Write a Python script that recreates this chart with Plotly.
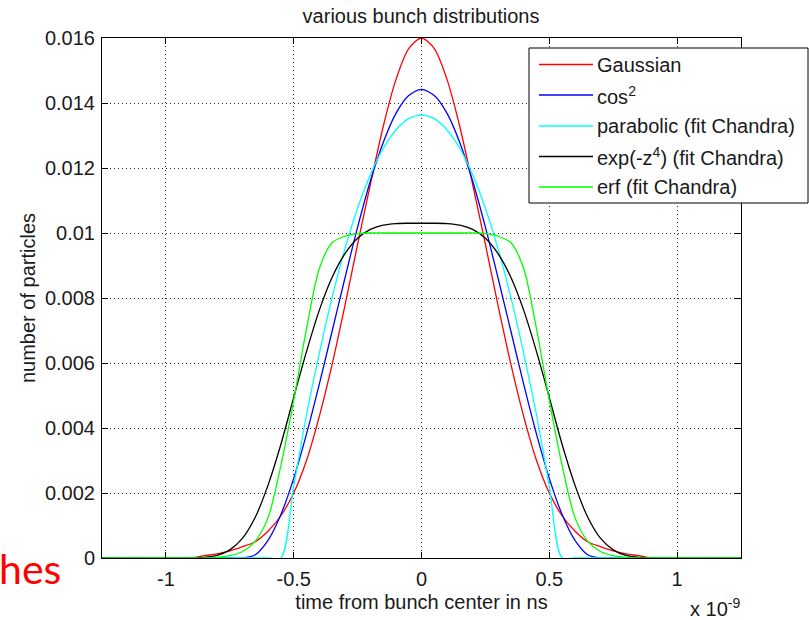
import plotly.graph_objects as go

# ---------------- data ----------------
TIME_NS = [-1.25, -0.90, -0.85, -0.80, -0.75, -0.70, -0.65, -0.60, -0.55, -0.50,
           -0.45, -0.40, -0.35, -0.30, -0.25, -0.20, -0.15, -0.10, -0.05, 0.00,
           0.05, 0.10, 0.15, 0.20, 0.25, 0.30, 0.35, 0.40, 0.45, 0.50,
           0.55, 0.60, 0.65, 0.70, 0.75, 0.80, 0.85, 0.90, 1.25]

GAUSSIAN = [0, 0, 0.00007, 0.00013, 0.00022, 0.00035, 0.00050, 0.00083, 0.00130, 0.00200,
            0.00300, 0.00435, 0.00595, 0.00775, 0.00965, 0.01150, 0.01327, 0.01472, 0.01567, 0.01600,
            0.01567, 0.01472, 0.01327, 0.01150, 0.00965, 0.00775, 0.00595, 0.00435, 0.00300, 0.00200,
            0.00130, 0.00083, 0.00050, 0.00035, 0.00022, 0.00013, 0.00007, 0, 0]

COS2 = [0, 0, 0, 0, 0, 0, 0.00010, 0.00055, 0.00134, 0.00245,
        0.00381, 0.00534, 0.00697, 0.00860, 0.01018, 0.01160, 0.01278, 0.01368, 0.01423, 0.01442,
        0.01423, 0.01368, 0.01278, 0.01160, 0.01018, 0.00860, 0.00697, 0.00534, 0.00381, 0.00245,
        0.00134, 0.00055, 0.00010, 0, 0, 0, 0, 0, 0]

PARABOLIC = [0, 0, 0, 0, 0, 0, 0, 0, 0, 0.00220,
             0.00440, 0.00629, 0.00801, 0.00950, 0.01076, 0.01179, 0.01260, 0.01317, 0.01352, 0.01363,
             0.01352, 0.01317, 0.01260, 0.01179, 0.01076, 0.00950, 0.00801, 0.00629, 0.00440, 0.00220,
             0, 0, 0, 0, 0, 0, 0, 0, 0]

EXP_Z4 = [0, 0, 0.00002, 0.00008, 0.00025, 0.00061, 0.00126, 0.00225, 0.00350, 0.00494,
          0.00635, 0.00762, 0.00863, 0.00936, 0.00984, 0.01011, 0.01024, 0.01029, 0.01030, 0.01030,
          0.01030, 0.01029, 0.01024, 0.01011, 0.00984, 0.00936, 0.00863, 0.00762, 0.00635, 0.00494,
          0.00350, 0.00225, 0.00126, 0.00061, 0.00025, 0.00008, 0.00002, 0, 0]

ERF = [0, 0, 0, 0.00002, 0.00007, 0.00020, 0.00052, 0.00125, 0.00285, 0.00485,
       0.00705, 0.00890, 0.00970, 0.00990, 0.00998, 0.01000, 0.01000, 0.01000, 0.01000, 0.01000,
       0.01000, 0.01000, 0.01000, 0.01000, 0.00998, 0.00990, 0.00970, 0.00890, 0.00705, 0.00485,
       0.00285, 0.00125, 0.00052, 0.00020, 0.00007, 0.00002, 0, 0, 0]

SERIES_NAMES = ["Gaussian", "cos<sup>2</sup>", "parabolic (fit Chandra)",
                "exp(-z<sup>4</sup>) (fit Chandra)", "erf (fit Chandra)"]
SERIES_VALUES = [GAUSSIAN, COS2, PARABOLIC, EXP_Z4, ERF]
SERIES_COLORS = ["#ff0000", "#0000ff", "#00ffff", "#000000", "#00ff00"]

X_TICKS_NS = [-1, -0.5, 0, 0.5, 1]
X_TICK_TEXT = ["-1", "-0.5", "0", "0.5", "1"]
Y_TICKS = [0, 0.002, 0.004, 0.006, 0.008, 0.010, 0.012, 0.014, 0.016]
Y_TICK_TEXT = ["0", "0.002", "0.004", "0.006", "0.008", "0.01", "0.012", "0.014", "0.016"]

TITLE = "various bunch distributions"
X_LABEL = "time from bunch center in ns"
Y_LABEL = "number of particles"
EXPONENT = "x 10<sup>-9</sup>"
SIDE_TEXT = "hes"

# ---------------- layout geometry ----------------
W, H = 809, 620
PL, PR, PT, PB = 102, 741, 38, 558
FONT = "Liberation Sans, Arial, Helvetica, sans-serif"
TXT = "#1a1a1a"


def px_x(px):
    return (px - PL) / (PR - PL)


def px_y(py):
    return (PB - py) / (PB - PT)


SCALE = 1e-9
x_sec = [t * SCALE for t in TIME_NS]

fig = go.Figure()
for name, vals, col in zip(SERIES_NAMES, SERIES_VALUES, SERIES_COLORS):
    fig.add_trace(go.Scatter(
        x=x_sec, y=vals, mode="lines", name=name,
        line=dict(color=col, width=1.3, shape="spline", smoothing=0.8),
        showlegend=False, hoverinfo="skip"))

axis_common = dict(
    showline=True, linecolor="#000", linewidth=1, mirror="ticks",
    ticks="inside", ticklen=6, tickcolor="#000", tickwidth=1,
    showgrid=True, gridcolor="rgba(0,0,0,0.85)", gridwidth=1, griddash="1px,3px",
    zeroline=False, tickfont=dict(family=FONT, size=20, color=TXT),
)

fig.update_xaxes(range=[-1.25 * SCALE, 1.25 * SCALE],
                 tickvals=[v * SCALE for v in X_TICKS_NS], ticktext=X_TICK_TEXT,
                 title=dict(text=X_LABEL, font=dict(family=FONT, size=20, color=TXT), standoff=5),
                 ticklabelstandoff=3,
                 **axis_common)
fig.update_yaxes(range=[0, 0.016], tickvals=Y_TICKS, ticktext=Y_TICK_TEXT,
                 title=dict(text=Y_LABEL, font=dict(family=FONT, size=20, color=TXT), standoff=3),
                 ticklabelstandoff=2,
                 **axis_common)

# legend box (drawn manually to match the MATLAB legend)
shapes = [dict(type="rect", xref="paper", yref="paper",
               x0=px_x(529), x1=px_x(808), y0=px_y(203), y1=px_y(48),
               line=dict(color="#000", width=1), fillcolor="#fff", layer="above")]
row_y = [64.5, 95, 126, 156.5, 187]
annotations = []
for ry, name, col in zip(row_y, SERIES_NAMES, SERIES_COLORS):
    shapes.append(dict(type="line", xref="paper", yref="paper",
                       x0=px_x(539), x1=px_x(593), y0=px_y(ry), y1=px_y(ry),
                       line=dict(color=col, width=1.3), layer="above"))
    annotations.append(dict(text=name, xref="paper", yref="paper",
                            x=px_x(595), y=px_y(ry), xanchor="left", yanchor="middle",
                            showarrow=False, font=dict(family=FONT, size=20, color=TXT)))

annotations.append(dict(text=EXPONENT, xref="paper", yref="paper",
                        x=px_x(742), y=px_y(607), xanchor="right", yanchor="middle",
                        showarrow=False, font=dict(family=FONT, size=20, color=TXT)))
annotations.append(dict(text=SIDE_TEXT, xref="paper", yref="paper",
                        x=px_x(-3), y=px_y(568), xanchor="left", yanchor="middle",
                        showarrow=False, font=dict(family="Lato, Carlito, sans-serif", size=41, color="#ff0000")))

fig.update_layout(
    width=W, height=H,
    margin=dict(l=PL, r=W - PR, t=PT, b=H - PB, autoexpand=False),
    paper_bgcolor="#fff", plot_bgcolor="#fff",
    title=dict(text=TITLE, x=px_x(421), xref="paper", xanchor="center",
               y=1 - 16 / H, yref="container", yanchor="middle",
               font=dict(family=FONT, size=20, color=TXT)),
    shapes=shapes, annotations=annotations, showlegend=False,
)

fig.write_html("out.html", config={"displayModeBar": False, "staticPlot": True},
               post_script="document.body.style.margin='0';document.body.style.overflow='hidden';")
